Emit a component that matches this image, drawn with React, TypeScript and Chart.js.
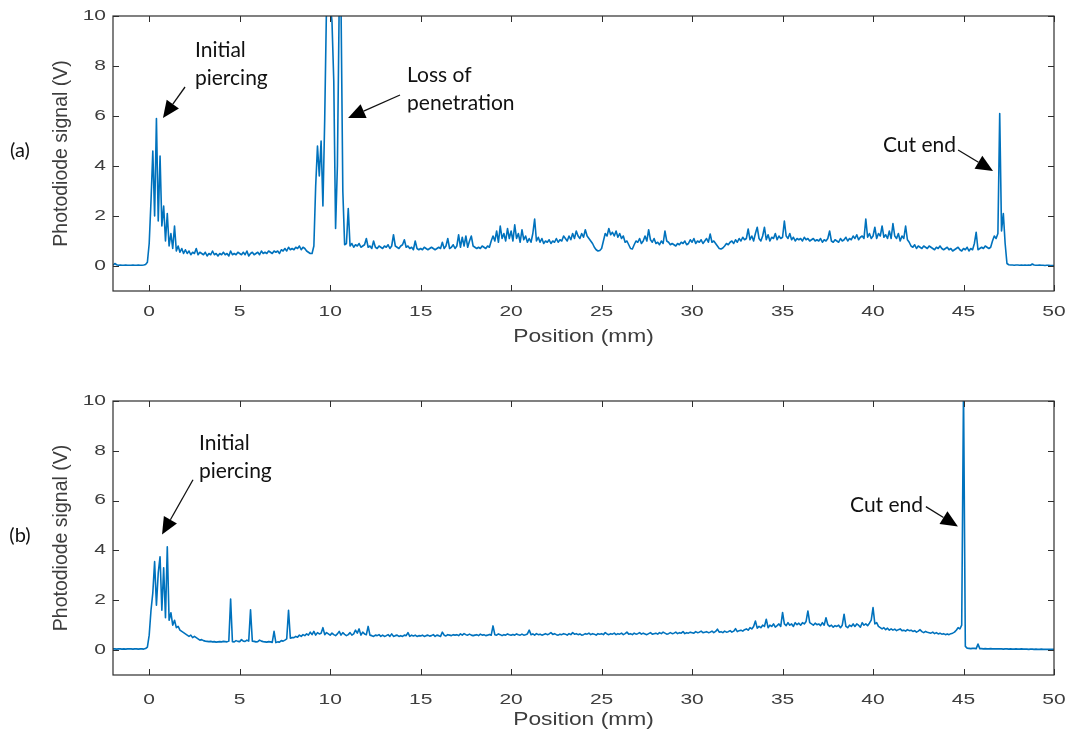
import React, { useEffect, useRef } from 'react';
import { Chart, registerables } from 'chart.js';

Chart.register(...registerables);

// ---- axes ----
const X_MIN = -2;
const X_MAX = 50;
const Y_MIN = -1;
const Y_MAX = 10;
const X_TICKS = [0, 5, 10, 15, 20, 25, 30, 35, 40, 45, 50];
const Y_TICKS = [0, 2, 4, 6, 8, 10];
const X_TITLE = 'Position (mm)';
const Y_TITLE = 'Photodiode signal (V)';

// ---- sampling: each row starts at (ROW_START + rowIndex) mm, samples every 0.1 mm ----
const ROW_START = -2;
const SAMPLE_STEP = 0.1;

// ---- (a) photodiode signal, V ----
const SIGNAL_A_ROWS: number[][] = [
  [0.03, 0.10, 0.05, 0.03, 0.04, 0.03, 0.03, 0.04, 0.03, 0.03], // -2
  [0.03, 0.04, 0.03, 0.03, 0.04, 0.03, 0.03, 0.04, 0.06, 0.15], // -1
  [0.9, 2.6, 4.6, 2.0, 5.9, 1.8, 4.4, 1.6, 2.4, 1.0], // 0
  [2.1, 0.8, 1.3, 0.7, 1.6, 0.6, 0.8, 0.55, 0.7, 0.5], // 1
  [0.65, 0.5, 0.6, 0.45, 0.55, 0.5, 0.7, 0.45, 0.55, 0.5], // 2
  [0.45, 0.55, 0.4, 0.5, 0.45, 0.6, 0.45, 0.5, 0.4, 0.5], // 3
  [0.45, 0.55, 0.45, 0.5, 0.4, 0.6, 0.45, 0.5, 0.45, 0.55], // 4
  [0.5, 0.45, 0.55, 0.45, 0.6, 0.4, 0.5, 0.55, 0.45, 0.5], // 5
  [0.55, 0.45, 0.6, 0.5, 0.55, 0.5, 0.6, 0.55, 0.5, 0.6], // 6
  [0.55, 0.6, 0.5, 0.65, 0.6, 0.7, 0.6, 0.75, 0.65, 0.7], // 7
  [0.65, 0.75, 0.7, 0.8, 0.65, 0.75, 0.7, 0.6, 0.55, 0.5], // 8
  [0.5, 0.8, 3.2, 4.8, 3.6, 5.0, 2.4, 5.9, 10.5, 10.5], // 9
  [10.5, 9.8, 7.4, 1.5, 4.0, 10.5, 10.5, 3.0, 0.85, 0.9], // 10
  [2.3, 0.8, 0.9, 0.75, 0.85, 0.8, 0.9, 0.75, 0.8, 0.85], // 11
  [1.1, 0.75, 0.8, 0.7, 1.0, 0.75, 0.7, 0.8, 0.75, 0.7], // 12
  [0.8, 0.75, 0.85, 0.7, 0.8, 1.25, 0.8, 0.75, 0.7, 0.8], // 13
  [0.85, 1.05, 0.75, 0.8, 0.7, 0.75, 0.65, 1.0, 0.7, 0.65], // 14
  [0.7, 0.65, 0.75, 0.7, 0.65, 0.7, 0.75, 0.7, 0.65, 0.7], // 15
  [0.75, 0.7, 0.95, 0.7, 0.8, 1.1, 0.7, 0.75, 0.85, 0.7], // 16
  [0.8, 1.25, 0.75, 1.15, 0.8, 1.2, 0.75, 1.0, 1.2, 0.8], // 17
  [0.75, 0.7, 0.75, 0.7, 0.8, 0.75, 0.7, 0.8, 0.75, 1.0], // 18
  [1.2, 1.0, 1.4, 0.95, 1.6, 1.1, 1.3, 1.0, 1.5, 1.1], // 19
  [1.4, 1.0, 1.65, 1.1, 1.3, 0.95, 1.45, 1.05, 1.2, 0.95], // 20
  [1.1, 0.95, 1.3, 1.88, 1.0, 1.15, 0.95, 1.1, 0.9, 1.0], // 21
  [0.95, 1.05, 0.9, 1.0, 0.95, 1.1, 0.95, 1.05, 1.0, 1.2], // 22
  [1.1, 1.0, 1.2, 1.05, 1.3, 1.1, 1.4, 1.2, 1.1, 1.3], // 23
  [1.15, 1.45, 1.2, 1.1, 1.0, 0.9, 0.75, 0.65, 0.6, 0.62], // 24
  [0.7, 1.0, 1.3, 1.2, 1.5, 1.25, 1.35, 1.2, 1.4, 1.15], // 25
  [1.3, 1.1, 1.2, 0.95, 1.0, 0.85, 0.7, 0.68, 0.85, 1.0], // 26
  [0.95, 1.1, 0.9, 1.0, 1.2, 1.0, 1.45, 1.05, 0.95, 1.1], // 27
  [0.9, 0.95, 0.85, 1.0, 0.9, 1.4, 1.0, 0.95, 0.85, 0.9], // 28
  [0.85, 0.8, 0.9, 0.85, 0.95, 0.9, 1.0, 0.85, 0.9, 1.05], // 29
  [0.95, 1.1, 0.9, 1.0, 0.95, 1.05, 0.9, 1.0, 1.1, 0.95], // 30
  [1.28, 0.95, 1.0, 0.9, 0.8, 0.7, 0.68, 0.72, 0.8, 0.9], // 31
  [0.85, 0.95, 1.0, 0.9, 1.05, 0.95, 1.1, 1.0, 1.15, 1.05], // 32
  [1.1, 1.48, 1.05, 1.2, 1.0, 1.3, 1.55, 1.1, 1.0, 1.2], // 33
  [1.55, 1.05, 1.25, 1.0, 1.15, 1.1, 1.3, 1.05, 1.2, 1.1], // 34
  [1.15, 1.8, 1.2, 1.1, 1.3, 1.05, 1.15, 1.0, 1.1, 1.05], // 35
  [1.1, 1.0, 1.15, 1.05, 1.1, 1.0, 1.05, 1.1, 1.0, 1.05], // 36
  [1.0, 1.1, 0.95, 1.05, 1.0, 1.1, 1.4, 1.0, 0.95, 1.05], // 37
  [1.0, 0.95, 1.1, 1.0, 1.05, 1.15, 1.0, 1.1, 1.05, 1.2], // 38
  [1.1, 1.25, 1.05, 1.15, 1.2, 1.1, 1.88, 1.15, 1.3, 1.1], // 39
  [1.2, 1.55, 1.1, 1.3, 1.2, 1.6, 1.15, 1.25, 1.1, 1.4], // 40
  [1.1, 1.7, 1.2, 1.1, 1.3, 1.0, 1.2, 1.1, 1.6, 1.05], // 41
  [0.95, 0.8, 0.75, 0.85, 0.7, 0.8, 0.75, 0.7, 0.8, 0.75], // 42
  [0.7, 0.8, 0.75, 0.7, 0.65, 0.75, 0.7, 0.8, 0.7, 0.65], // 43
  [0.7, 0.75, 0.65, 0.7, 0.6, 0.65, 0.7, 0.75, 0.65, 0.6], // 44
  [0.7, 0.65, 0.75, 0.6, 0.7, 0.65, 0.9, 1.35, 0.65, 0.7], // 45
  [0.75, 0.7, 0.8, 0.75, 0.7, 0.75, 1.0, 1.2, 1.1, 1.3], // 46
  [6.1, 1.4, 2.1, 0.9, 0.1, 0.05, 0.04, 0.04, 0.03, 0.04], // 47
  [0.04, 0.03, 0.04, 0.03, 0.04, 0.03, 0.04, 0.03, 0.08, 0.04], // 48
  [0.03, 0.03, 0.04, 0.03, 0.03, 0.02, 0.03, 0.03, 0.02, 0.02], // 49
  [0.02], // 50
];

// ---- (b) photodiode signal, V ----
const SIGNAL_B_ROWS: number[][] = [
  [0.05, 0.05, 0.04, 0.05, 0.05, 0.04, 0.05, 0.04, 0.05, 0.05], // -2
  [0.05, 0.04, 0.05, 0.05, 0.04, 0.05, 0.05, 0.04, 0.06, 0.12], // -1
  [0.6, 1.6, 2.3, 3.55, 1.8, 3.1, 3.75, 1.6, 3.3, 1.3], // 0
  [4.15, 1.2, 1.5, 1.0, 1.2, 0.9, 0.95, 0.8, 0.75, 0.7], // 1
  [0.65, 0.6, 0.55, 0.6, 0.5, 0.55, 0.5, 0.45, 0.4, 0.42], // 2
  [0.38, 0.36, 0.35, 0.34, 0.35, 0.33, 0.34, 0.32, 0.33, 0.34], // 3
  [0.33, 0.35, 0.34, 0.33, 0.36, 2.05, 0.34, 0.33, 0.38, 0.35], // 4
  [0.34, 0.42, 0.36, 0.35, 0.4, 0.36, 1.62, 0.36, 0.35, 0.33], // 5
  [0.34, 0.4, 0.36, 0.34, 0.33, 0.32, 0.34, 0.33, 0.31, 0.75], // 6
  [0.3, 0.33, 0.32, 0.38, 0.36, 0.4, 0.45, 1.6, 0.48, 0.5], // 7
  [0.5, 0.55, 0.52, 0.6, 0.55, 0.62, 0.58, 0.65, 0.6, 0.72], // 8
  [0.62, 0.75, 0.6, 0.7, 0.65, 0.68, 0.9, 0.62, 0.7, 0.65], // 9
  [0.6, 0.68, 0.62, 0.58, 0.65, 0.75, 0.6, 0.7, 0.63, 0.58], // 10
  [0.62, 0.7, 0.6, 0.65, 0.8, 0.68, 0.85, 0.6, 0.72, 0.65], // 11
  [0.62, 0.95, 0.6, 0.58, 0.55, 0.6, 0.58, 0.62, 0.55, 0.6], // 12
  [0.55, 0.58, 0.62, 0.55, 0.65, 0.55, 0.58, 0.6, 0.55, 0.58], // 13
  [0.55, 0.6, 0.58, 0.7, 0.55, 0.6, 0.57, 0.6, 0.55, 0.58], // 14
  [0.57, 0.6, 0.55, 0.58, 0.6, 0.56, 0.58, 0.62, 0.55, 0.6], // 15
  [0.58, 0.55, 0.72, 0.6, 0.57, 0.62, 0.6, 0.58, 0.62, 0.6], // 16
  [0.62, 0.58, 0.65, 0.6, 0.66, 0.62, 0.6, 0.64, 0.6, 0.58], // 17
  [0.6, 0.62, 0.58, 0.64, 0.6, 0.62, 0.58, 0.6, 0.63, 0.6], // 18
  [0.97, 0.62, 0.6, 0.65, 0.62, 0.58, 0.62, 0.6, 0.65, 0.62], // 19
  [0.6, 0.63, 0.6, 0.65, 0.62, 0.6, 0.64, 0.6, 0.62, 0.65], // 20
  [0.8, 0.62, 0.65, 0.6, 0.66, 0.62, 0.64, 0.6, 0.63, 0.66], // 21
  [0.62, 0.65, 0.7, 0.63, 0.66, 0.62, 0.6, 0.64, 0.62, 0.66], // 22
  [0.64, 0.6, 0.66, 0.62, 0.7, 0.64, 0.66, 0.62, 0.65, 0.6], // 23
  [0.62, 0.66, 0.64, 0.68, 0.62, 0.66, 0.64, 0.6, 0.66, 0.64], // 24
  [0.66, 0.62, 0.7, 0.65, 0.62, 0.66, 0.64, 0.68, 0.62, 0.66], // 25
  [0.64, 0.68, 0.62, 0.66, 0.72, 0.64, 0.66, 0.62, 0.68, 0.64], // 26
  [0.66, 0.7, 0.64, 0.68, 0.65, 0.62, 0.66, 0.7, 0.64, 0.66], // 27
  [0.68, 0.64, 0.7, 0.66, 0.72, 0.68, 0.64, 0.66, 0.7, 0.66], // 28
  [0.68, 0.72, 0.66, 0.7, 0.68, 0.74, 0.66, 0.7, 0.68, 0.72], // 29
  [0.7, 0.68, 0.74, 0.7, 0.72, 0.76, 0.7, 0.72, 0.74, 0.7], // 30
  [0.72, 0.76, 0.7, 0.75, 0.84, 0.72, 0.74, 0.7, 0.76, 0.72], // 31
  [0.74, 0.78, 0.72, 0.76, 0.86, 0.74, 0.78, 0.8, 0.76, 0.82], // 32
  [0.85, 0.8, 0.9, 0.85, 0.95, 1.17, 0.88, 0.95, 0.9, 1.0], // 33
  [0.95, 1.24, 0.9, 1.0, 0.95, 1.05, 0.92, 0.98, 1.05, 0.95], // 34
  [1.51, 1.05, 0.98, 1.1, 1.0, 1.05, 0.95, 1.1, 1.02, 1.08], // 35
  [1.0, 1.1, 1.05, 1.15, 1.57, 1.1, 1.05, 1.0, 1.08, 1.02], // 36
  [1.05, 0.98, 1.1, 1.0, 1.3, 1.02, 0.95, 1.0, 0.92, 0.98], // 37
  [0.95, 1.0, 0.9, 1.0, 1.44, 0.95, 0.9, 1.0, 0.95, 1.05], // 38
  [0.95, 1.05, 1.0, 0.92, 1.1, 1.0, 1.05, 0.98, 1.08, 1.2], // 39
  [1.71, 1.05, 1.1, 0.95, 0.9, 0.85, 0.9, 0.82, 0.88, 0.8], // 40
  [0.85, 0.8, 0.84, 0.78, 0.82, 0.85, 0.78, 0.8, 0.76, 0.82], // 41
  [0.78, 0.8, 0.75, 0.78, 0.72, 0.76, 0.82, 0.74, 0.7, 0.75], // 42
  [0.72, 0.7, 0.68, 0.72, 0.66, 0.7, 0.65, 0.68, 0.64, 0.66], // 43
  [0.62, 0.65, 0.62, 0.66, 0.68, 0.72, 0.8, 0.9, 0.85, 1.0], // 44
  [10.5, 0.15, 0.08, 0.07, 0.06, 0.07, 0.07, 0.06, 0.24, 0.06], // 45
  [0.06, 0.05, 0.06, 0.05, 0.05, 0.06, 0.05, 0.05, 0.05, 0.05], // 46
  [0.05, 0.05, 0.04, 0.05, 0.05, 0.04, 0.05, 0.04, 0.04, 0.05], // 47
  [0.04, 0.04, 0.05, 0.04, 0.04, 0.04, 0.03, 0.04, 0.04, 0.03], // 48
  [0.04, 0.03, 0.03, 0.04, 0.03, 0.03, 0.03, 0.03, 0.03, 0.03], // 49
  [0.03], // 50
];

// ---- annotations (data coordinates) ----
type Note = {
  lines: string[];
  x: number;
  baselines: number[];
  from: [number, number];
  to: [number, number];
  clipBelow?: number;
};

const NOTES_A: Note[] = [
  { lines: ['Initial', 'piercing'], x: 2.53, baselines: [8.36, 7.24], from: [1.98, 7.16], to: [0.76, 5.92] },
  { lines: ['Loss of', 'penetration'], x: 14.25, baselines: [7.36, 6.24], from: [13.86, 6.84], to: [10.99, 5.92], clipBelow: 6.14 },
  { lines: ['Cut end'], x: 40.55, baselines: [4.56], from: [44.7, 4.64], to: [46.63, 3.8] },
];

const NOTES_B: Note[] = [
  { lines: ['Initial', 'piercing'], x: 2.75, baselines: [8.04, 6.92], from: [2.42, 6.84], to: [0.71, 4.64] },
  { lines: ['Cut end'], x: 38.73, baselines: [5.56], from: [42.92, 5.76], to: [44.69, 4.96] },
];

const LINE_COLOR = '#0072BD';
const AXIS_COLOR = '#2e2e2e';
const TEXT_GREY = '#3d3d3d';
const SANS = '"Liberation Sans", Arial, Helvetica, sans-serif';
const NOTE_FONT = 'Lato, "Open Sans", sans-serif';

function rowsToPoints(rows: number[][]) {
  const pts: { x: number; y: number }[] = [];
  rows.forEach((row, r) => {
    row.forEach((v, j) => {
      pts.push({ x: Math.round((ROW_START + r + j * SAMPLE_STEP) * 100) / 100, y: v });
    });
  });
  return pts;
}

function stretchText(ctx: CanvasRenderingContext2D, text: string, x: number, y: number, sx: number, align: CanvasTextAlign) {
  ctx.save();
  ctx.translate(x, y);
  ctx.scale(sx, 1);
  ctx.textAlign = align;
  ctx.fillText(text, 0, 0);
  ctx.restore();
}

type DecorOpts = {
  panel: string;
  notes: Note[];
  tickGap: number;
  titleGap: number;
};

const decorPlugin = {
  id: 'decor',
  afterDatasetsDraw(chart: any, _args: any, opts: DecorOpts) {
    const { ctx, chartArea: ca } = chart;
    const xs = chart.scales.x;
    const ys = chart.scales.y;
    ctx.save();

    // box
    ctx.strokeStyle = AXIS_COLOR;
    ctx.lineWidth = 1.2;
    ctx.strokeRect(ca.left, ca.top, ca.right - ca.left, ca.bottom - ca.top);

    // inward ticks on all sides
    ctx.beginPath();
    X_TICKS.forEach((v) => {
      const px = Math.round(xs.getPixelForValue(v)) + 0.5;
      ctx.moveTo(px, ca.bottom);
      ctx.lineTo(px, ca.bottom - 6);
      ctx.moveTo(px, ca.top);
      ctx.lineTo(px, ca.top + 6);
    });
    Y_TICKS.forEach((v) => {
      const py = Math.round(ys.getPixelForValue(v)) + 0.5;
      ctx.moveTo(ca.left, py);
      ctx.lineTo(ca.left + 6, py);
      ctx.moveTo(ca.right, py);
      ctx.lineTo(ca.right - 6, py);
    });
    ctx.lineWidth = 1;
    ctx.stroke();

    // tick labels
    ctx.fillStyle = TEXT_GREY;
    ctx.font = `14px ${SANS}`;
    ctx.textBaseline = 'middle';
    X_TICKS.forEach((v) => {
      stretchText(ctx, String(v), xs.getPixelForValue(v), ca.bottom + opts.tickGap, 1.5, 'center');
    });
    Y_TICKS.forEach((v) => {
      stretchText(ctx, String(v), ca.left - 7, ys.getPixelForValue(v), 1.5, 'right');
    });

    // axis titles
    ctx.font = `19px ${SANS}`;
    stretchText(ctx, X_TITLE, (ca.left + ca.right) / 2, ca.bottom + opts.titleGap, 1.2, 'center');
    ctx.save();
    ctx.translate(ca.left - 51, (ca.top + ca.bottom) / 2);
    ctx.rotate(-Math.PI / 2);
    ctx.textAlign = 'center';
    ctx.font = `19.5px ${SANS}`;
    ctx.fillText(Y_TITLE, 0, 0);
    ctx.restore();

    // panel label
    ctx.fillStyle = '#111';
    ctx.font = `20px ${NOTE_FONT}`;
    ctx.textAlign = 'center';
    ctx.textBaseline = 'middle';
    ctx.fillText(opts.panel, 20, ys.getPixelForValue(4.6));

    // annotations
    opts.notes.forEach((n) => {
      ctx.save();
      if (n.clipBelow !== undefined) {
        ctx.beginPath();
        ctx.rect(0, 0, chart.width, ys.getPixelForValue(n.clipBelow));
        ctx.clip();
      }
      ctx.fillStyle = '#111';
      ctx.font = `21px ${NOTE_FONT}`;
      ctx.textAlign = 'left';
      ctx.textBaseline = 'alphabetic';
      n.lines.forEach((t, i) => {
        ctx.fillText(t, xs.getPixelForValue(n.x), ys.getPixelForValue(n.baselines[i]));
      });
      ctx.restore();

      const x1 = xs.getPixelForValue(n.from[0]);
      const y1 = ys.getPixelForValue(n.from[1]);
      const x2 = xs.getPixelForValue(n.to[0]);
      const y2 = ys.getPixelForValue(n.to[1]);
      const ang = Math.atan2(y2 - y1, x2 - x1);
      const headLen = 17;
      const headHalf = 7.5;
      const bx = x2 - headLen * Math.cos(ang);
      const by = y2 - headLen * Math.sin(ang);
      ctx.strokeStyle = '#111';
      ctx.lineWidth = 1.3;
      ctx.beginPath();
      ctx.moveTo(x1, y1);
      ctx.lineTo(bx, by);
      ctx.stroke();
      ctx.fillStyle = '#000';
      ctx.beginPath();
      ctx.moveTo(x2, y2);
      ctx.lineTo(bx + headHalf * Math.sin(ang), by - headHalf * Math.cos(ang));
      ctx.lineTo(bx - headHalf * Math.sin(ang), by + headHalf * Math.cos(ang));
      ctx.closePath();
      ctx.fill();
    });

    ctx.restore();
  },
};

function makeChart(canvas: HTMLCanvasElement, rows: number[][], padTop: number, xAxisHeight: number, decor: DecorOpts) {
  return new Chart(canvas, {
    type: 'line',
    data: {
      datasets: [
        {
          data: rowsToPoints(rows),
          borderColor: LINE_COLOR,
          borderWidth: 1.6,
          borderJoinStyle: 'round',
          pointRadius: 0,
          tension: 0,
          fill: false,
        },
      ],
    },
    options: {
      responsive: false,
      animation: false,
      events: [],
      layout: { padding: { top: padTop, right: 18, left: 0, bottom: 0 } },
      plugins: {
        legend: { display: false },
        tooltip: { enabled: false },
        decor,
      } as any,
      scales: {
        x: {
          type: 'linear',
          min: X_MIN,
          max: X_MAX,
          grid: { display: false },
          border: { display: false },
          ticks: { display: false },
          afterFit: (s: any) => {
            s.height = xAxisHeight;
          },
        },
        y: {
          type: 'linear',
          min: Y_MIN,
          max: Y_MAX,
          grid: { display: false },
          border: { display: false },
          ticks: { display: false },
          afterFit: (s: any) => {
            s.width = 113;
          },
        },
      },
    },
    plugins: [decorPlugin],
  });
}

export default function App() {
  const refA = useRef<HTMLCanvasElement>(null);
  const refB = useRef<HTMLCanvasElement>(null);

  useEffect(() => {
    const a = makeChart(refA.current!, SIGNAL_A_ROWS, 16, 69, {
      panel: '(a)',
      notes: NOTES_A,
      tickGap: 21,
      titleGap: 46,
    });
    const b = makeChart(refB.current!, SIGNAL_B_ROWS, 41, 60, {
      panel: '(b)',
      notes: NOTES_B,
      tickGap: 25,
      titleGap: 45,
    });
    return () => {
      a.destroy();
      b.destroy();
    };
  }, []);

  return (
    <div style={{ position: 'absolute', left: 0, top: 0, width: 1072, height: 735, background: '#fff' }}>
      <canvas ref={refA} width={1072} height={360} style={{ position: 'absolute', left: 0, top: 0, display: 'block' }} />
      <canvas ref={refB} width={1072} height={375} style={{ position: 'absolute', left: 0, top: 360, display: 'block' }} />
    </div>
  );
}
